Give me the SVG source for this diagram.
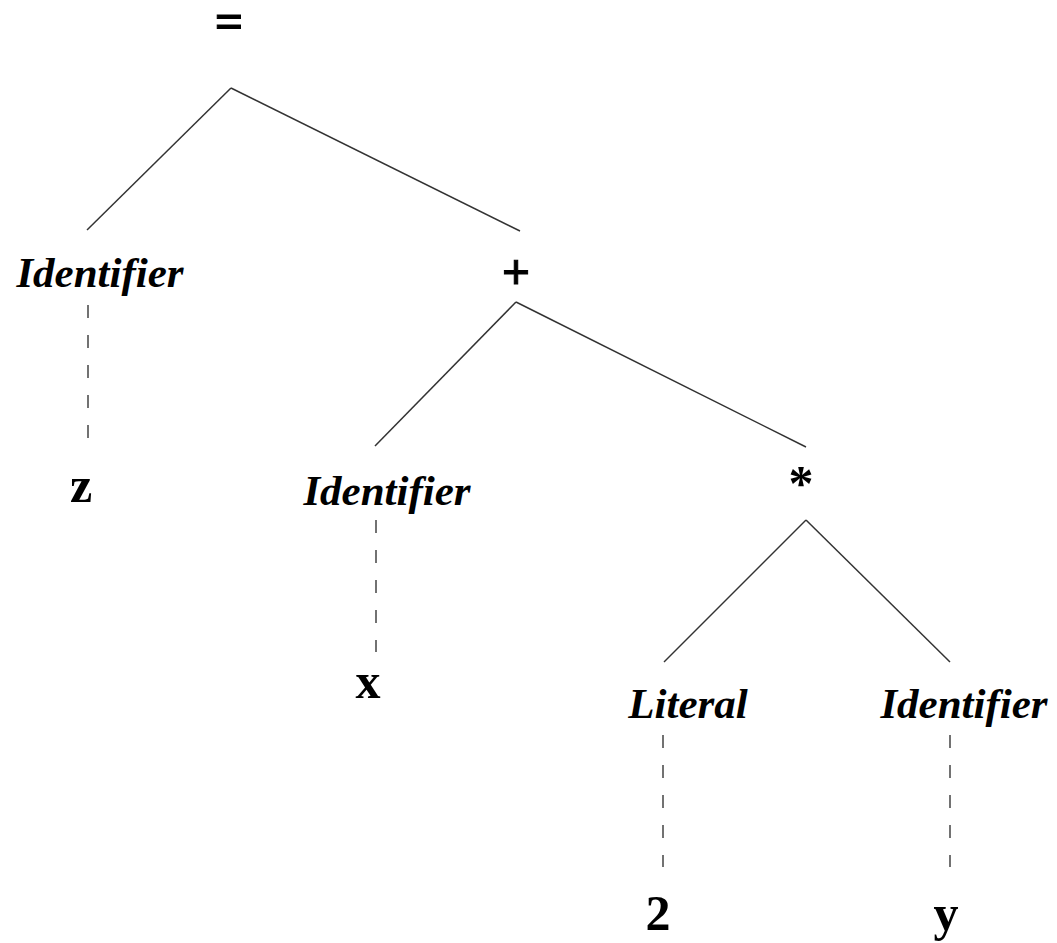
<svg xmlns="http://www.w3.org/2000/svg" width="1057" height="943" viewBox="0 0 1057 943">
<style>
.t{font-family:"Liberation Serif","Times New Roman",serif;font-weight:bold;font-size:43px;fill:#000;text-anchor:middle}
.i{font-style:italic}
.b{font-size:50px}
.e{stroke:#333;stroke-width:1.5;fill:none}
.d{stroke:#444;stroke-width:1.5;stroke-dasharray:13 17;fill:none}
</style>
<rect width="1057" height="943" fill="#fff"/>
<g id="connectors">
<line class="e" x1="231" y1="88" x2="87" y2="230"/>
<line class="e" x1="231" y1="88" x2="520" y2="231"/>
<line class="e" x1="516" y1="302" x2="375" y2="446"/>
<line class="e" x1="516" y1="302" x2="806" y2="447"/>
<line class="e" x1="806" y1="520" x2="664" y2="662"/>
<line class="e" x1="806" y1="520" x2="950" y2="662"/>
<line class="d" x1="88" y1="305" x2="88" y2="450"/>
<line class="d" x1="376" y1="520" x2="376" y2="652"/>
<line class="d" x1="663" y1="735" x2="663" y2="867"/>
<line class="d" x1="950" y1="735" x2="950" y2="867"/>
</g>
<g id="n-assign"><text class="t b" x="229" y="38" stroke="#000" stroke-width="1">=</text></g>
<g id="n-id-z"><text class="t i" x="100" y="287">Identifier</text></g>
<g id="n-z"><text class="t b" x="81" y="502">z</text></g>
<g id="n-plus"><text class="t b" x="516" y="289" stroke="#000" stroke-width="1">+</text></g>
<g id="n-id-x"><text class="t i" x="387" y="505">Identifier</text></g>
<g id="n-x"><text class="t b" x="368" y="698">x</text></g>
<g id="n-mul"><text class="t b" x="801" y="500">*</text></g>
<g id="n-lit"><text class="t i" x="688" y="718">Literal</text></g>
<g id="n-2"><text class="t b" x="658" y="930">2</text></g>
<g id="n-id-y"><text class="t i" x="964" y="718">Identifier</text></g>
<g id="n-y"><text class="t b" x="946" y="930">y</text></g>
</svg>
